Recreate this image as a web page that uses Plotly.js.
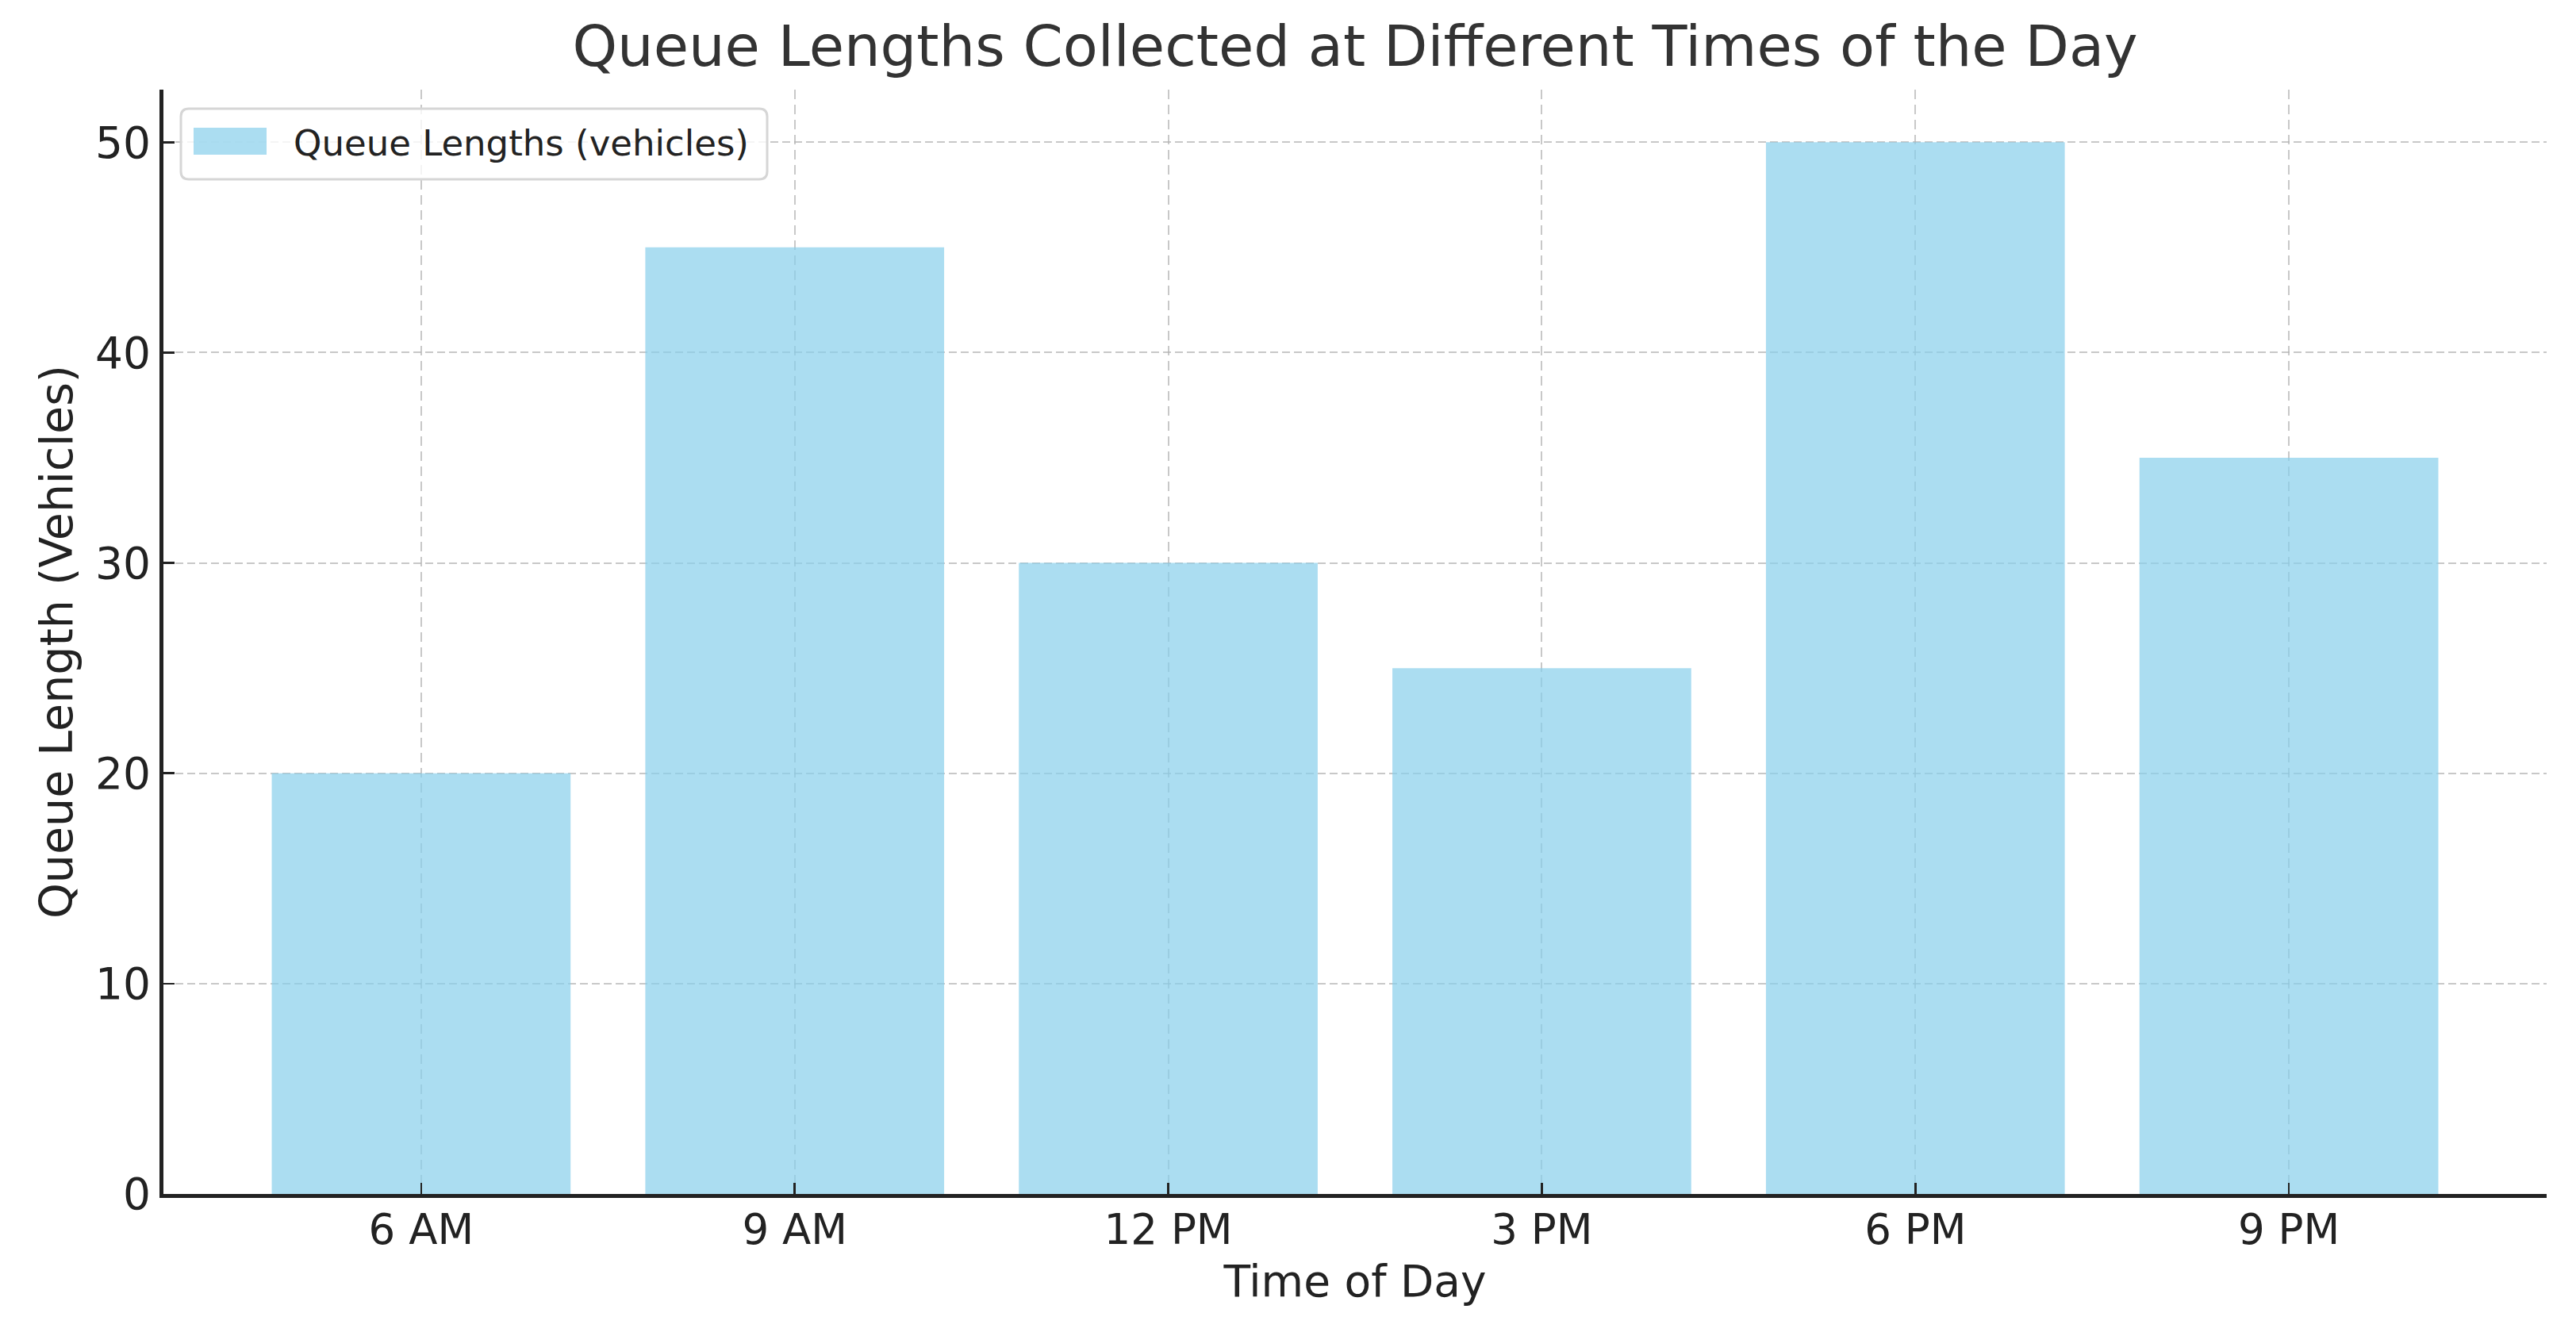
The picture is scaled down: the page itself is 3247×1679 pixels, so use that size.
<!DOCTYPE html>
<html>
<head>
<meta charset="utf-8">
<script src="https://cdn.plot.ly/plotly-3.0.1.min.js"></script>
<style>html,body{margin:0;padding:0;background:#fff;}#chart{width:3247px;height:1679px;}</style>
</head>
<body>
<div id="chart"></div>
<script>
// ---- data ----
const times = ["6 AM", "9 AM", "12 PM", "3 PM", "6 PM", "9 PM"];
const queueLengths = [20, 45, 30, 25, 50, 35];
const seriesName = "Queue Lengths (vehicles)";
const yTicks = [0, 10, 20, 30, 40, 50];

// ---- layout geometry ----
const W = 3247, H = 1679;
const M = {l: 206, r: 37, t: 113, b: 174};
const PW = W - M.l - M.r, PH = H - M.t - M.b;
const px2x = p => (p - M.l) / PW;
const px2y = p => (H - M.b - p) / PH;

const FONT = "DejaVu Sans, sans-serif";
const barColor = "rgba(135,206,235,0.7)";

// rounded legend box path in paper coords
function roundRect(x0, y0, x1, y1, r) {
  const X = p => px2x(p), Y = p => px2y(p);
  return `M${X(x0 + r)},${Y(y0)} L${X(x1 - r)},${Y(y0)} Q${X(x1)},${Y(y0)} ${X(x1)},${Y(y0 + r)} ` +
         `L${X(x1)},${Y(y1 - r)} Q${X(x1)},${Y(y1)} ${X(x1 - r)},${Y(y1)} ` +
         `L${X(x0 + r)},${Y(y1)} Q${X(x0)},${Y(y1)} ${X(x0)},${Y(y1 - r)} ` +
         `L${X(x0)},${Y(y0 + r)} Q${X(x0)},${Y(y0)} ${X(x0 + r)},${Y(y0)} Z`;
}

const trace = {
  type: "bar",
  x: times,
  y: queueLengths,
  name: seriesName,
  width: 0.8,
  marker: {color: barColor, line: {width: 0}},
  showlegend: false,
  hoverinfo: "x+y"
};

const layout = {
  width: W, height: H,
  margin: M,
  paper_bgcolor: "#ffffff",
  plot_bgcolor: "#ffffff",
  font: {family: FONT, color: "#222222"},
  title: {
    text: "Queue Lengths Collected at Different Times of the Day",
    font: {family: FONT, size: 72, color: "#333333"},
    x: 0.5, xref: "paper", xanchor: "center",
    y: 1 - 58 / H, yref: "container", yanchor: "middle"
  },
  xaxis: {
    type: "category",
    range: [-0.69, 5.69],
    title: {text: "Time of Day", font: {family: FONT, size: 55, color: "#222222"}, standoff: 18},
    tickfont: {family: FONT, size: 53, color: "#222222"},
    ticklabelstandoff: -6,
    ticks: "inside", ticklen: 14, tickwidth: 2.5, tickcolor: "#222222",
    showline: true, linewidth: 5, linecolor: "#222222",
    showgrid: true, gridcolor: "rgba(176,176,176,0.7)", gridwidth: 2, griddash: "12px,7px",
    zeroline: false, fixedrange: true
  },
  yaxis: {
    range: [0, 52.5],
    tickvals: yTicks,
    ticktext: yTicks.map(String),
    title: {text: "Queue Length (Vehicles)", font: {family: FONT, size: 57, color: "#222222"}, standoff: 12},
    tickfont: {family: FONT, size: 55, color: "#222222"},
    ticks: "inside", ticklen: 14, tickwidth: 2.5, tickcolor: "#222222",
    showline: true, linewidth: 5, linecolor: "#222222",
    showgrid: true, gridcolor: "rgba(176,176,176,0.7)", gridwidth: 2, griddash: "10px,5px",
    zeroline: false, fixedrange: true
  },
  showlegend: false,
  shapes: [
    {type: "path", xref: "paper", yref: "paper", path: roundRect(228, 137, 967, 226, 10),
     fillcolor: "rgba(255,255,255,0.8)", line: {color: "#d6d6d6", width: 3}, layer: "above"},
    {type: "rect", xref: "paper", yref: "paper",
     x0: px2x(244), x1: px2x(336), y0: px2y(195), y1: px2y(161),
     fillcolor: barColor, line: {width: 0}, layer: "above"}
  ],
  annotations: [
    {text: seriesName, xref: "paper", yref: "paper", x: px2x(368), y: px2y(180),
     xanchor: "left", yanchor: "middle", showarrow: false,
     font: {family: FONT, size: 45, color: "#222222"}}
  ]
};

Plotly.newPlot("chart", [trace], layout, {displayModeBar: false, staticPlot: true});
</script>
</body>
</html>
